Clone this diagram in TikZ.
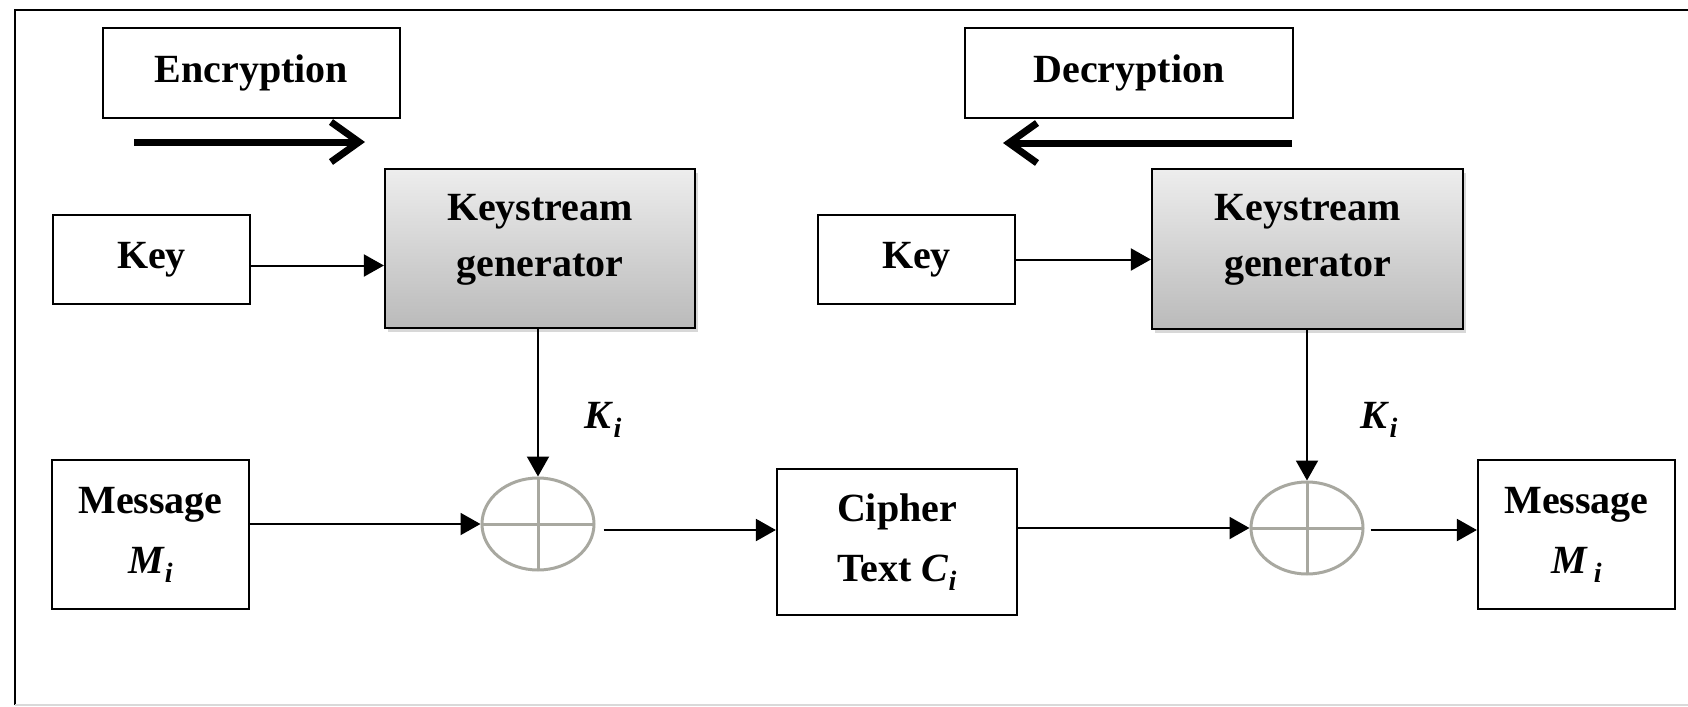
\documentclass[tikz,border=0pt]{standalone}
\usepackage{fontspec}
\setmainfont{Liberation Serif}
\usetikzlibrary{arrows.meta,shapes.geometric,shadows}
\definecolor{xorgray}{RGB}{168,168,160}
% bold italic symbol with a lowered index
\newcommand\symsub[2]{\textbf{\textit{#1}}\raisebox{-4.5pt}{\fontsize{14}{14}\selectfont\textbf{\textit{#2}}}}

\begin{document}
\begin{tikzpicture}[x=0.5pt,y=-0.5pt,
  box/.style={draw=black, line width=1.1pt, fill=white, inner sep=0pt, align=center,
    font=\bfseries\fontsize{20}{30}\selectfont},
  gen/.style={box, top color=black!7, bottom color=black!27,
    drop shadow={shadow xshift=1.5pt, shadow yshift=-2pt, opacity=0.3}},
  xorop/.style={ellipse, draw=xorgray, line width=1.5pt, minimum width=56pt,
    minimum height=46pt, inner sep=0pt,
    path picture={\draw[xorgray, line width=1.5pt]
      (path picture bounding box.north) -- (path picture bounding box.south)
      (path picture bounding box.west) -- (path picture bounding box.east);}},
  conn/.style={line width=1pt, -{Triangle[length=10pt,width=11pt]}},
  dirarrow/.style={line width=3.5pt, -{Straight Barb[length=14pt,width=20pt]}},
  lbl/.style={font=\fontsize{20}{24}\selectfont, inner sep=0pt}
]
\useasboundingbox (0,0) rectangle (1688,707);
\fill[white] (0,0) rectangle (1688,707);

% outer frame
\draw[line width=1pt] (15,705) -- (15,10) -- (1688,10);
\draw[black!15, line width=1pt] (15,705) -- (1688,705);

% direction captions
\node[box, minimum width=148.5pt, minimum height=45pt] (enc) at (251.5,73) {Encryption};
\node[box, minimum width=164pt, minimum height=45pt] (dec) at (1129,73) {Decryption};
\coordinate (encA) at (134,142);
\coordinate (encB) at (365,142);
\coordinate (decA) at (1292,143);
\coordinate (decB) at (1003,143);
\draw[dirarrow] (encA) -- (encB);
\draw[dirarrow] (decA) -- (decB);

% encryption side
\node[box, minimum width=98.5pt, minimum height=44.5pt] (key1) at (151.5,259.5) {Key};
\node[gen, minimum width=155pt, minimum height=79.5pt] (ks1) at (540,248.5) {};
\node[font=\bfseries\fontsize{20}{28}\selectfont, align=center, inner sep=0pt] (ks1t) at (540,240) {Keystream\\generator};
\node[box, minimum width=98.5pt, minimum height=74.5pt] (msg1) at (150.5,534.5) {Message\\\symsub{M}{i}};
\node[xorop] (xor1) at (538,524) {};
\node[box, minimum width=120pt, minimum height=73pt] (cipher) at (897,542) {Cipher\\Text \symsub{C}{i}};

% decryption side
\node[box, minimum width=98.5pt, minimum height=44.5pt] (key2) at (916.5,259.5) {Key};
\node[gen, minimum width=155.5pt, minimum height=80pt] (ks2) at (1307.5,249) {};
\node[font=\bfseries\fontsize{20}{28}\selectfont, align=center, inner sep=0pt] (ks2t) at (1307.5,240) {Keystream\\generator};
\node[xorop] (xor2) at (1307,528) {};
\node[box, minimum width=98.5pt, minimum height=74.5pt] (msg2) at (1576.5,534.5) {Message\\\symsub{M}{\hspace{3pt}i}};

% keystream labels
\node[lbl] (k1) at (603,420) {\symsub{K}{i}};
\node[lbl] (k2) at (1379,420) {\symsub{K}{i}};

% connectors
\coordinate (key1out) at ([yshift=-3pt]key1.east);
\draw[conn] (key1out) -- (key1out -| ks1.west);
\draw[conn] (key2.east) -- (key2.east -| ks2.west);
\draw[conn] (xor1.north |- ks1.south) -- (xor1.north);
\draw[conn] (xor2.north |- ks2.south) -- (xor2.north);
\draw[conn] (msg1.east |- xor1.west) -- (xor1.west);
\coordinate (xor1out) at ([shift={(4pt,-3pt)}]xor1.east);
\draw[conn] (xor1out) -- (xor1out -| cipher.west);
\draw[conn] (cipher.east |- xor2.west) -- (xor2.west);
\coordinate (xor2out) at ([shift={(3pt,-1pt)}]xor2.east);
\draw[conn] (xor2out) -- (xor2out -| msg2.west);
\end{tikzpicture}
\end{document}
